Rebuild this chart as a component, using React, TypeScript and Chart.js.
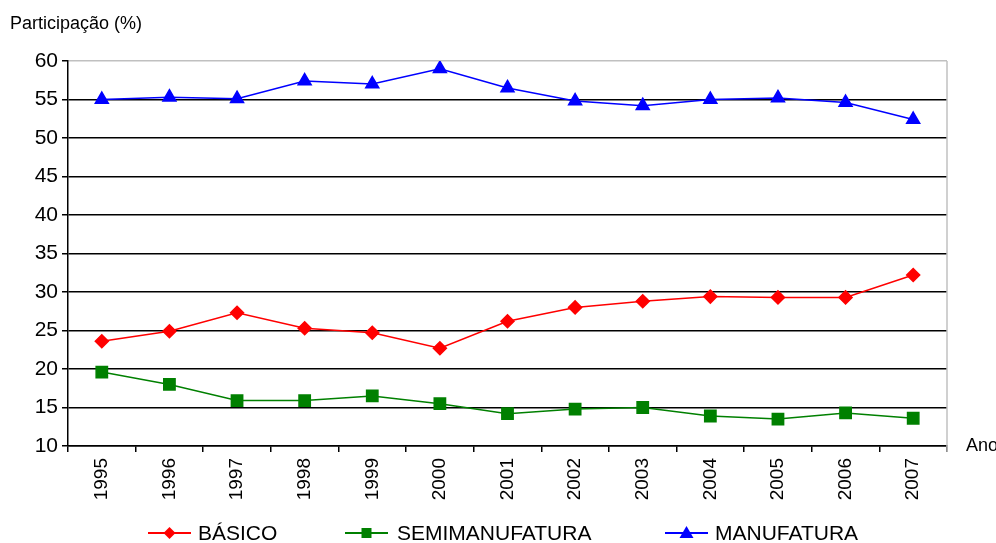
import React, { useEffect, useRef } from "react";
import { Chart, registerables } from "chart.js";

Chart.register(...registerables);

const years = ["1995", "1996", "1997", "1998", "1999", "2000", "2001", "2002", "2003", "2004", "2005", "2006", "2007"];
const basico = [23.6, 24.9, 27.3, 25.3, 24.7, 22.7, 26.2, 28.0, 28.8, 29.4, 29.3, 29.3, 32.2];
const semimanufatura = [19.6, 18.0, 15.9, 15.9, 16.5, 15.5, 14.2, 14.8, 15.0, 13.9, 13.5, 14.3, 13.6];
const manufatura = [55.0, 55.3, 55.1, 57.4, 57.0, 59.0, 56.5, 54.8, 54.2, 55.0, 55.2, 54.6, 52.4];
const seriesNames = ["BÁSICO", "SEMIMANUFATURA", "MANUFATURA"];
const yAxisTitle = "Participação (%)";
const xAxisTitle = "Ano";

const FONT = "'Liberation Sans', Arial, sans-serif";

const extrasPlugin = {
  id: "extras",
  afterDraw(chart: any) {
    const ctx = chart.ctx;
    const area = chart.chartArea;
    ctx.save();
    // right border
    ctx.strokeStyle = "#c0c0c0";
    ctx.lineWidth = 1.5;
    ctx.beginPath();
    ctx.moveTo(area.right, area.top);
    ctx.lineTo(area.right, area.bottom + 6);
    ctx.stroke();
    // axis titles
    ctx.fillStyle = "#000";
    ctx.font = `18px ${FONT}`;
    ctx.textBaseline = "middle";
    ctx.textAlign = "left";
    ctx.fillText(yAxisTitle, 10, 24);
    ctx.fillText(xAxisTitle, 966, area.bottom);
    // legend
    const ly = 533;
    const items = [
      { x: 148, tx: 198 },
      { x: 345, tx: 397 },
      { x: 665, tx: 715 },
    ];
    chart.data.datasets.forEach((ds: any, i: number) => {
      const it = items[i];
      ctx.strokeStyle = ds.borderColor;
      ctx.fillStyle = ds.borderColor;
      ctx.lineWidth = 2;
      ctx.beginPath();
      ctx.moveTo(it.x, ly);
      ctx.lineTo(it.x + 43, ly);
      ctx.stroke();
      const cx = it.x + 21.5;
      ctx.beginPath();
      if (ds.pointStyle === "rectRot") {
        ctx.moveTo(cx, ly - 6);
        ctx.lineTo(cx + 6, ly);
        ctx.lineTo(cx, ly + 6);
        ctx.lineTo(cx - 6, ly);
      } else if (ds.pointStyle === "rect") {
        ctx.rect(cx - 5, ly - 5, 10, 10);
      } else {
        ctx.moveTo(cx, ly - 7);
        ctx.lineTo(cx + 7, ly + 5);
        ctx.lineTo(cx - 7, ly + 5);
      }
      ctx.closePath();
      ctx.fill();
      ctx.fillStyle = "#000";
      ctx.font = `21px ${FONT}`;
      ctx.textAlign = "left";
      ctx.textBaseline = "middle";
      ctx.fillText(ds.label, it.tx, ly + 1);
    });
    ctx.restore();
  },
};

export default function App() {
  const ref = useRef<HTMLCanvasElement>(null);
  useEffect(() => {
    if (!ref.current) return;
    const chart = new Chart(ref.current, {
      type: "line",
      data: {
        labels: years,
        datasets: [
          {
            label: seriesNames[0],
            data: basico,
            borderColor: "#ff0000",
            backgroundColor: "#ff0000",
            pointStyle: "rectRot",
            pointRadius: 6.5,
            borderWidth: 1.5,
          },
          {
            label: seriesNames[1],
            data: semimanufatura,
            borderColor: "#008000",
            backgroundColor: "#008000",
            pointStyle: "rect",
            pointRadius: 8,
            borderWidth: 1.5,
          },
          {
            label: seriesNames[2],
            data: manufatura,
            borderColor: "#0000ff",
            backgroundColor: "#0000ff",
            pointStyle: "triangle",
            pointRadius: 7.5,
            borderWidth: 1.5,
          },
        ],
      },
      options: {
        responsive: false,
        animation: false,
        devicePixelRatio: 1,
        layout: { padding: { top: 61, right: 49, bottom: 0, left: 0 } },
        plugins: { legend: { display: false }, tooltip: { enabled: false } },
        scales: {
          x: {
            offset: true,
            grid: {
              display: true,
              drawOnChartArea: false,
              drawTicks: true,
              tickLength: 6,
              offset: true,
              color: "#000",
              lineWidth: 1.5,
            },
            border: { color: "#000", width: 1.5 },
            ticks: {
              minRotation: 90,
              maxRotation: 90,
              autoSkip: false,
              color: "#000",
              font: { family: FONT, size: 19 },
              padding: 6,
            },
            afterFit(scale: any) {
              scale.height = 97;
            },
          },
          y: {
            min: 10,
            max: 60,
            ticks: {
              stepSize: 5,
              color: "#000",
              font: { family: FONT, size: 21 },
              padding: 4,
            },
            grid: {
              color: (c: any) => (c.tick && c.tick.value === 60 ? "#c0c0c0" : "#000"),
              tickColor: "#000",
              lineWidth: 1.5,
              tickLength: 6,
            },
            border: { color: "#000", width: 1.5 },
            afterFit(scale: any) {
              scale.width = 68;
            },
          },
        },
      },
      plugins: [extrasPlugin],
    });
    return () => chart.destroy();
  }, []);
  return (
    <div style={{ position: "fixed", left: 0, top: 0, width: 996, height: 543, background: "#fff" }}>
      <canvas ref={ref} width={996} height={543} />
    </div>
  );
}
